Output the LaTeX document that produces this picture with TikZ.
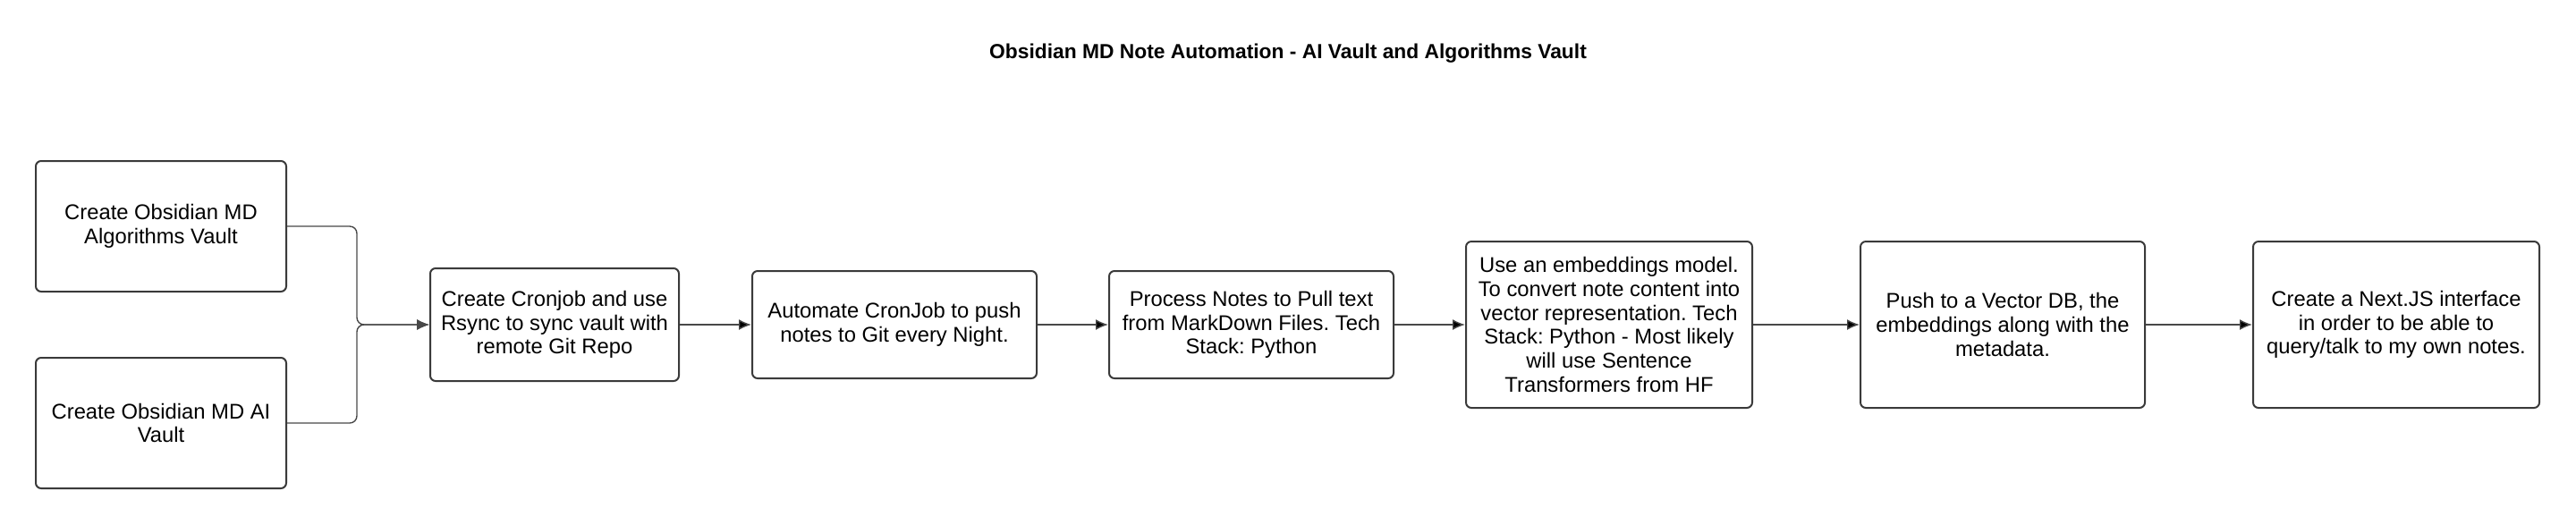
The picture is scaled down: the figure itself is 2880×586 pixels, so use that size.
\documentclass[tikz,border=0pt]{standalone}
\usepackage{fontspec}
\setmainfont{Liberation Sans}
\usepackage{tikz}
\usetikzlibrary{arrows.meta, positioning}
\definecolor{boxgray}{RGB}{58,58,58}
\definecolor{wiregray}{RGB}{72,72,72}
\frenchspacing

\begin{document}
\begin{tikzpicture}[x=0.5pt,y=-0.5pt,node distance=39.5pt,>={Latex[length=7pt,width=6pt]}]
  \tikzstyle{task}=[draw=boxgray,line width=1pt,rounded corners=3pt,align=center,inner sep=2pt,font=\fontsize{11.9}{13.4}\selectfont]
  \tikzstyle{wire}=[draw=wiregray,line width=0.7pt]

  \useasboundingbox (0,0) rectangle (2880,586);

  \node[font=\fontsize{11.4}{13}\selectfont\bfseries] (title) at (1440,60) {Obsidian MD Note Automation - AI Vault and Algorithms Vault};

  \node[task,minimum width=140pt,minimum height=73pt] (algo) at (180,253) {Create Obsidian MD\\Algorithms Vault};
  \node[task,minimum width=140pt,minimum height=73pt] (ai)   at (180,473) {Create Obsidian MD AI\\Vault};
  \node[task,minimum width=139pt,minimum height=63pt] (cron) at (620,363) {Create Cronjob and use\\Rsync to sync vault with\\remote Git Repo};
  \node[task,minimum width=159pt,minimum height=60pt] (push)  [right=40pt of cron]   {Automate CronJob to push\\notes to Git every Night.};
  \node[task,minimum width=159pt,minimum height=60pt] (parse) [right=of push]        {Process Notes to Pull text\\from MarkDown Files. Tech\\Stack: Python};
  \node[task,minimum width=160pt,minimum height=93pt] (embed) [right=of parse]       {Use an embeddings model.\\To convert note content into\\vector representation. Tech\\Stack: Python - Most likely\\will use Sentence\\Transformers from HF};
  \node[task,minimum width=159pt,minimum height=93pt] (store) [right=59.5pt of embed] {Push to a Vector DB, the\\embeddings along with the\\metadata.};
  \node[task,minimum width=160pt,minimum height=93pt] (ui)    [right=59.5pt of store] {Create a Next.JS interface\\in order to be able to\\query/talk to my own notes.};

  \coordinate (fork) at (399,363);

  \draw[wire,rounded corners=4pt,->] (algo.east) -| (fork) -- (cron.west);
  \draw[wire,rounded corners=4pt,->] (ai.east) -| (fork) -- (cron.west);

  \path[wire,->]
  (cron)  edge (push)
  (push)  edge (parse)
  (parse) edge (embed)
  (embed) edge (store)
  (store) edge (ui)
  ;
\end{tikzpicture}
\end{document}
